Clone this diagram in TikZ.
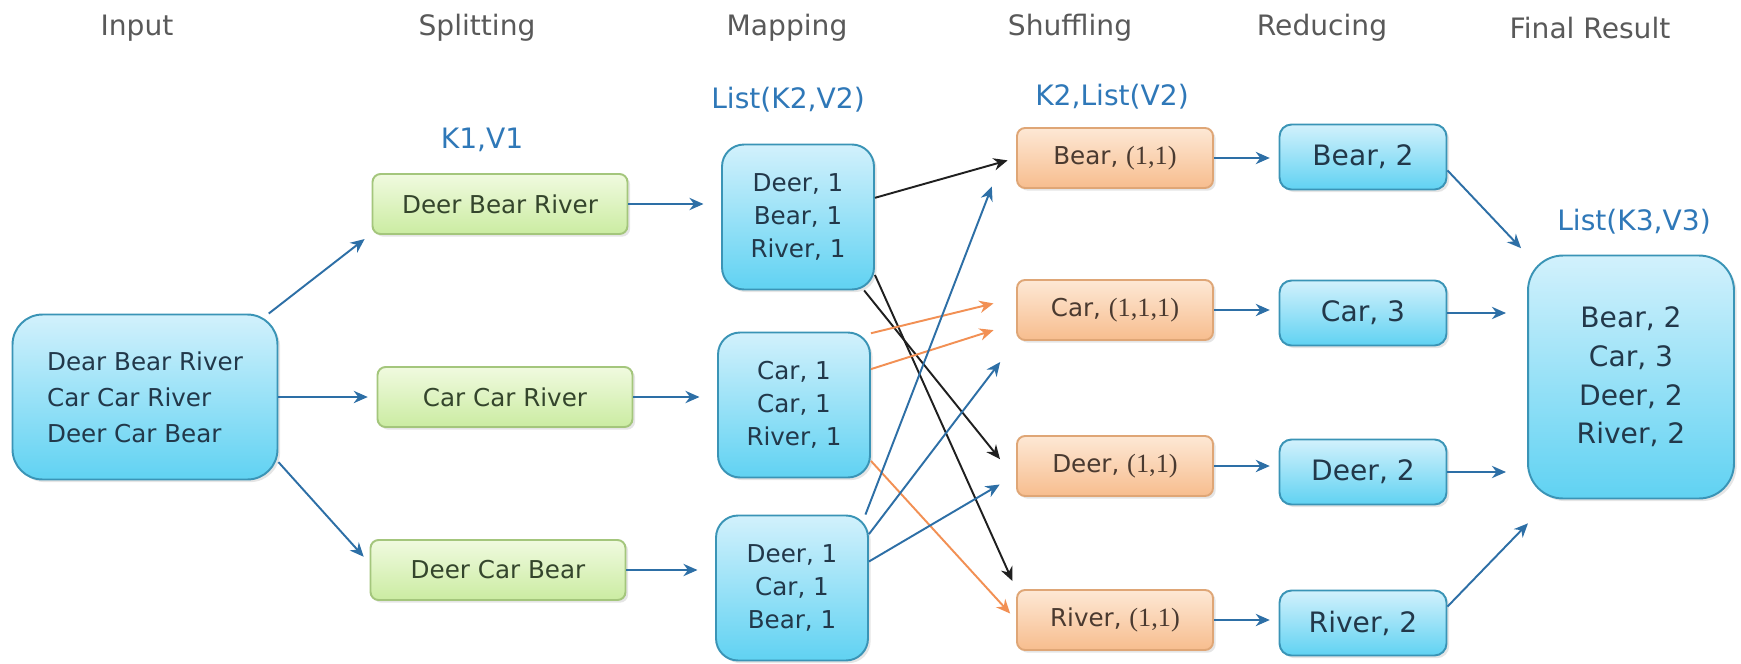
\documentclass[tikz,border=0pt]{standalone}
\usepackage{fontspec}
\setmainfont{DejaVu Sans}
\newfontfamily\tupfont{Liberation Serif}
\usetikzlibrary{arrows.meta,shadows}

\definecolor{bluetop}{HTML}{D2F1FC}
\definecolor{bluebot}{HTML}{60D2F2}
\definecolor{blueline}{HTML}{3A94B6}
\definecolor{bluetext}{HTML}{22384A}
\definecolor{greentop}{HTML}{F0FADF}
\definecolor{greenbot}{HTML}{CBECA2}
\definecolor{greenline}{HTML}{A4C67C}
\definecolor{greentext}{HTML}{34452C}
\definecolor{orangetop}{HTML}{FDE8D5}
\definecolor{orangebot}{HTML}{F7BD8E}
\definecolor{orangeline}{HTML}{DFA676}
\definecolor{orangetext}{HTML}{4A3A30}
\definecolor{arrblue}{HTML}{2D6FA6}
\definecolor{arrorange}{HTML}{F29054}
\definecolor{kvblue}{HTML}{2F78B8}

\newcommand{\tup}[1]{{\tupfont\fontsize{15}{18}\selectfont #1}}

\begin{document}
\begin{tikzpicture}[x=0.02cm, y=-0.02cm, >={Stealth[length=8pt,width=7pt]},
	stage/.style={text=black!65, font=\fontsize{16}{19}\selectfont},
	kvlabel/.style={text=kvblue, font=\fontsize{16}{19}\selectfont},
	box/.style={draw, line width=1.1pt, align=center, inner sep=0pt,
		drop shadow={opacity=0.2, shadow xshift=1.5pt, shadow yshift=-1.5pt}},
	bluebox/.style={box, draw=blueline, top color=bluetop, bottom color=bluebot, text=bluetext},
	greenbox/.style={box, draw=greenline, top color=greentop, bottom color=greenbot, text=greentext,
		minimum width=5.1cm, minimum height=1.2cm, rounded corners=0.16cm, font=\fontsize{14}{17}\selectfont},
	mapbox/.style={bluebox, minimum width=3.04cm, minimum height=2.9cm, rounded corners=0.44cm,
		font=\fontsize{14}{18.8}\selectfont},
	shufbox/.style={box, draw=orangeline, top color=orangetop, bottom color=orangebot, text=orangetext,
		minimum width=3.92cm, minimum height=1.2cm, rounded corners=0.16cm, font=\fontsize{14}{17}\selectfont},
	redbox/.style={bluebox, minimum width=3.34cm, minimum height=1.3cm, rounded corners=0.24cm,
		font=\fontsize{16}{19}\selectfont},
	arr/.style={->, line width=1.1pt, shorten >=5pt},
	blue arrow/.style={arr, color=arrblue},
	black arrow/.style={arr, color=black!88},
	orange arrow/.style={arr, color=arrorange}]
	\useasboundingbox (0,0) rectangle (1741,663);
	\fill [white] (0,0) rectangle (1741,663);

	% Stage titles
	\node [stage] (tIn)  at (137,28)  {Input};
	\node [stage] (tSp)  at (477,28)  {Splitting};
	\node [stage] (tMap) at (787,28)  {Mapping};
	\node [stage] (tSh)  at (1070,28) {Shuffling};
	\node [stage] (tRed) at (1322,28) {Reducing};
	\node [stage] (tFin) at (1590,28) {Final Result};

	% Key/value labels
	\node [kvlabel] (kv1) at (482,140)  {K1,V1};
	\node [kvlabel] (kv2) at (788,100)  {List(K2,V2)};
	\node [kvlabel] (kv3) at (1112,97)  {K2,List(V2)};
	\node [kvlabel] (kv4) at (1634,222) {List(K3,V3)};

	% Nodes {in, sp1-3, map1-3, shB..shR, rB..rR, fin}
	\node [bluebox, minimum width=5.3cm, minimum height=3.3cm, rounded corners=0.6cm, align=left,
		font=\fontsize{14}{20.5}\selectfont] (in) at (145,397) {Dear Bear River\\Car Car River\\Deer Car Bear};

	\node [greenbox] (sp1) at (500,204) {Deer Bear River};
	\node [greenbox] (sp2) at (505,397) {Car Car River};
	\node [greenbox] (sp3) at (498,570) {Deer Car Bear};

	\node [mapbox] (map1) at (798,217) {Deer, 1\\Bear, 1\\River, 1};
	\node [mapbox] (map2) at (794,405) {Car, 1\\Car, 1\\River, 1};
	\node [mapbox] (map3) at (792,588) {Deer, 1\\Car, 1\\Bear, 1};

	\node [shufbox] (shB) at (1115,158) {Bear, \tup{(1,1)}};
	\node [shufbox] (shC) at (1115,310) {Car, \tup{(1,1,1)}};
	\node [shufbox] (shD) at (1115,466) {Deer, \tup{(1,1)}};
	\node [shufbox] (shR) at (1115,620) {River, \tup{(1,1)}};

	\node [redbox] (rB) at (1363,157) {Bear, 2};
	\node [redbox] (rC) at (1363,313) {Car, 3};
	\node [redbox] (rD) at (1363,472) {Deer, 2};
	\node [redbox] (rR) at (1363,623) {River, 2};

	\node [bluebox, minimum width=4.12cm, minimum height=4.86cm, rounded corners=0.7cm,
		font=\fontsize{16}{22}\selectfont] (fin) at (1631,377) {Bear, 2\\Car, 3\\Deer, 2\\River, 2};

	% Paths: input -> splitting -> mapping
	\path [blue arrow] (in.34) edge (sp1.193)
		(in.east) edge (sp2.west)
		(in.-26) edge (sp3.177);
	\path [blue arrow, shorten >=10pt] (sp1.east) edge (sp1.east -| map1.west)
		(sp2.east) edge (sp2.east -| map2.west)
		(sp3.east) edge (sp3.east -| map3.west);

	% Paths: mapping -> shuffling
	\path [black arrow] (map1.14) edge (shB.west)
		(map1.-48) edge ([xshift=-6pt]shD.west)
		(map1.-37) edge (shR.north west);
	\path [orange arrow] (map2.43) edge ([xshift=-8pt]shC.175)
		(map2.25) edge ([xshift=-8pt]shC.190)
		(map2.-36) edge (shR.west);
	\path [blue arrow] (map3.45) edge ([xshift=-12pt,yshift=6pt]shB.south west)
		(map3.35) edge ([xshift=-6pt,yshift=-8pt]shC.south west)
		(map3.19) edge ([xshift=-5pt,yshift=-8pt]shD.west);

	% Paths: shuffling -> reducing -> final result
	\path [blue arrow] (shB.east) edge (shB.east -| rB.west)
		(shC.east) edge (shC.east -| rC.west)
		(shD.east) edge (shD.east -| rD.west)
		(shR.east) edge (shR.east -| rR.west);
	\path [blue arrow] (rB.-9) edge (fin.north west)
		(rR.11) edge ([xshift=4pt,yshift=-10pt]fin.south west);
	\path [blue arrow, shorten >=12pt] (rC.east) edge (rC.east -| fin.west)
		(rD.east) edge (rD.east -| fin.west);
\end{tikzpicture}
\end{document}
